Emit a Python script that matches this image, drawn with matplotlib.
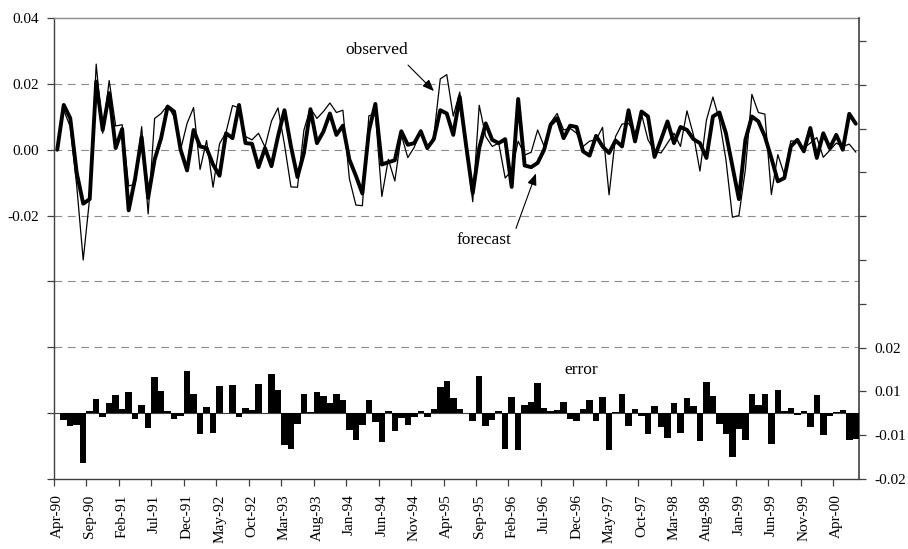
import matplotlib
matplotlib.use('Agg')
import matplotlib.pyplot as plt
from matplotlib.ticker import FuncFormatter
import numpy as np

plt.rcParams['font.family'] = ['Liberation Serif', 'DejaVu Serif']

# monthly values, Apr-90 .. Jul-00
observed = [
    0.0, 0.012, 0.007, -0.011, -0.0335, -0.0145, 0.026, 0.005, 0.021, 0.0072,
    0.0076, -0.011, -0.0105, 0.007, -0.0195, 0.0095, 0.011, 0.0135, 0.010, 0.0,
    0.008, 0.0128, -0.006, 0.0028, -0.0114, 0.0018, 0.0053, 0.0134, 0.0127, 0.004,
    0.003, 0.005, 0.0008, 0.0087, 0.0127, 0.0016, -0.0113, -0.0114, 0.006, 0.0126,
    0.0095, 0.0116, 0.0142, 0.0113, 0.012, -0.0088, -0.0168, -0.017, 0.0103, 0.011,
    -0.0142, -0.0029, -0.0095, 0.0045, -0.0024, 0.0008, 0.006, 0.0, 0.004, 0.0215,
    0.0228, 0.0102, 0.0175, 0.001, -0.0158, 0.0135, 0.004, 0.001, 0.002, -0.0086,
    -0.0063, 0.0026, -0.0016, -0.0008, 0.006, 0.001, 0.0082, 0.011, 0.006, 0.0065,
    0.005, 0.001, 0.0026, 0.003, 0.0068, -0.0137, 0.004, 0.0078, 0.008, 0.005,
    0.0108, 0.003, -0.0004, -0.001, 0.002, 0.005, 0.001, 0.0118, 0.0045, -0.0065,
    0.009, 0.016, 0.009, -0.003, -0.0205, -0.020, -0.006, 0.0168, 0.0113, 0.0108,
    -0.0136, -0.0015, -0.0076, 0.0027, 0.0025, 0.0006, 0.002, 0.0037, -0.0023, -0.0002,
    0.002, 0.001, 0.0017, -0.0007,
]
forecast = [
    0.0, 0.0136, 0.0096, -0.007, -0.0164, -0.015, 0.0207, 0.006, 0.0172, 0.0005,
    0.0063, -0.0184, -0.0087, 0.0038, -0.0146, -0.003, 0.0035, 0.0131, 0.0116, 0.0,
    -0.0063, 0.006, 0.001, 0.0005, -0.0045, -0.0079, 0.005, 0.0035, 0.0136, 0.002,
    0.0018, -0.0053, 0.0005, -0.005, 0.004, 0.012, 0.001, -0.0083, -0.001, 0.0123,
    0.002, 0.0055, 0.011, 0.0045, 0.0073, -0.003, -0.0079, -0.0133, 0.0056, 0.0139,
    -0.0045, -0.0038, -0.0032, 0.0056, 0.0015, 0.002, 0.0056, 0.0005, 0.0032, 0.012,
    0.011, 0.0045, 0.016, 0.001, -0.0132, 0.0005, 0.008, 0.003, 0.002, 0.0032,
    -0.0113, 0.0154, -0.0048, -0.0053, -0.004, 0.0, 0.0076, 0.0096, 0.0035, 0.0073,
    0.0069, -0.0005, -0.0018, 0.0042, 0.001, -0.001, 0.0028, 0.001, 0.012, 0.0025,
    0.0116, 0.0101, -0.0022, 0.003, 0.0086, 0.002, 0.0069, 0.006, 0.0032, 0.002,
    -0.0025, 0.0101, 0.0113, 0.005, -0.005, -0.015, 0.003, 0.0101, 0.0086, 0.004,
    -0.0025, -0.0096, -0.0086, 0.001, 0.003, -0.0005, 0.0066, -0.0025, 0.005, 0.0005,
    0.0045, 0.0, 0.0109, 0.0079,
]
error = [
    0.0, -0.0022, -0.0045, -0.0041, -0.017, 0.0008, 0.005, -0.0013, 0.0035, 0.0064,
    0.0016, 0.0072, -0.0018, 0.0027, -0.005, 0.0124, 0.0076, 0.0007, -0.0021, -0.0009,
    0.0145, 0.0067, -0.0072, 0.0022, -0.0066, 0.0094, 0.0002, 0.0096, -0.0013, 0.0019,
    0.001, 0.0099, 0.0001, 0.0134, 0.0081, -0.0107, -0.0121, -0.0035, 0.0067, 0.0005,
    0.0073, 0.006, 0.0035, 0.0065, 0.0047, -0.0058, -0.009, -0.0039, 0.0047, -0.003,
    -0.0098, 0.0008, -0.0062, -0.0016, -0.004, -0.0013, 0.0008, -0.0013, 0.0016, 0.009,
    0.011, 0.0053, 0.0016, 0.0, -0.0026, 0.0127, -0.0045, -0.0024, 0.0008, -0.0121,
    0.0056, -0.0127, 0.0027, 0.0039, 0.0104, 0.0019, 0.0007, 0.0013, 0.0039, -0.0018,
    -0.0027, 0.0016, 0.0045, -0.0026, 0.0056, -0.0127, 0.0005, 0.0067, -0.0045, 0.0016,
    -0.0009, -0.0072, 0.0024, -0.0047, -0.0083, 0.0035, -0.0067, 0.0054, 0.0024, -0.0095,
    0.0107, 0.0058, -0.0038, -0.007, -0.015, -0.0053, -0.0092, 0.0065, 0.0027, 0.0067,
    -0.0106, 0.0079, 0.0008, 0.0019, -0.0007, 0.0008, -0.0047, 0.0062, -0.0075, -0.0008,
    0.0005, 0.001, -0.009, -0.0087,
]

tick_labels = ['Apr-90', 'Sep-90', 'Feb-91', 'Jul-91', 'Dec-91', 'May-92', 'Oct-92',
               'Mar-93', 'Aug-93', 'Jan-94', 'Jun-94', 'Nov-94', 'Apr-95', 'Sep-95',
               'Feb-96', 'Jul-96', 'Dec-96', 'May-97', 'Oct-97', 'Mar-98', 'Aug-98',
               'Jan-99', 'Jun-99', 'Nov-99', 'Apr-00']

n = len(observed)
months = np.arange(n)
axis_col = '#404040'
grid_col = '#8c8c8c'

fig = plt.figure(figsize=(9.08, 5.49), dpi=100)
ax = fig.add_axes([54 / 908, 1 - 479 / 549, 805 / 908, 461 / 549])

# dashed horizontal grid on the left scale
for v in [0.02, 0.0, -0.02, -0.04, -0.06]:
    ax.axhline(v, color=grid_col, lw=0.8, ls=(0, (7, 5)), zorder=0.5)

ax.plot(months, observed, color='black', lw=0.9, zorder=3)
ax.plot(months, forecast, color='black', lw=2.8, zorder=4,
        solid_joinstyle='round', solid_capstyle='round')

ax.set_xlim(-0.5, n - 0.5)
ax.set_ylim(-0.10, 0.04)
ax.set_yticks(np.round(np.arange(-0.10, 0.041, 0.02), 2))
ax.yaxis.set_major_formatter(FuncFormatter(
    lambda v, p: f'{round(v, 2) + 0.0:.2f}' if v > -0.03 else ''))
ax.tick_params(axis='y', direction='out', length=5, width=0.9, color=axis_col,
               pad=6, labelsize=11)

# ticks on category boundaries, labels on the month itself
ax.set_xticks(np.arange(0, n, 5) - 0.5, labels=[''] * len(range(0, n, 5)))
ax.set_xticks(np.arange(0, n, 5), labels=tick_labels, minor=True)
ax.tick_params(axis='x', which='major', direction='out', length=5, width=0.9,
               color=axis_col)
ax.tick_params(axis='x', which='minor', length=0, pad=11, labelsize=11,
               labelrotation=90)

for side in ['left', 'bottom']:
    ax.spines[side].set_color(axis_col)
    ax.spines[side].set_linewidth(1.0)
ax.spines['top'].set_color(grid_col)
ax.spines['top'].set_linewidth(1.0)
ax.spines['right'].set_visible(False)

# error bars on the right scale
ax2 = ax.twinx()
ax2.set_ylim(-0.0225, -0.0225 + 461 / 43.8 * 0.015)
ax2.bar(months, error, width=1.0, color='black', linewidth=0, zorder=3)
ax2.axhline(0, color=axis_col, lw=0.8, zorder=2)
ax2.set_yticks(-0.0225 + 0.015 * np.arange(11))
ax2.yaxis.set_major_formatter(FuncFormatter(
    lambda v, p: f'{v:.2f}' if v < 0.03 else ''))
ax2.tick_params(axis='y', direction='out', length=5, width=0.9, color=axis_col,
                pad=6, labelsize=11)
for side in ['left', 'top', 'bottom']:
    ax2.spines[side].set_visible(False)
ax2.spines['right'].set_color(axis_col)
ax2.spines['right'].set_linewidth(1.2)

arrow = dict(arrowstyle='-|>,head_length=0.5,head_width=0.2', color='black',
             lw=0.8, mutation_scale=14, shrinkA=0, shrinkB=0)
ax.text(49.2, 0.0303, 'observed', ha='center', va='center', fontsize=12.5)
ax.annotate('', xy=(58.03, 0.0178), xytext=(54.03, 0.0257), arrowprops=arrow)
ax.text(65.7, -0.0274, 'forecast', ha='center', va='center', fontsize=12.5)
ax.annotate('', xy=(73.74, -0.0072), xytext=(70.66, -0.0239), arrowprops=arrow)
ax.text(80.75, -0.0669, 'error', ha='center', va='center', fontsize=12.5)

fig.savefig('out.png', dpi=100)
